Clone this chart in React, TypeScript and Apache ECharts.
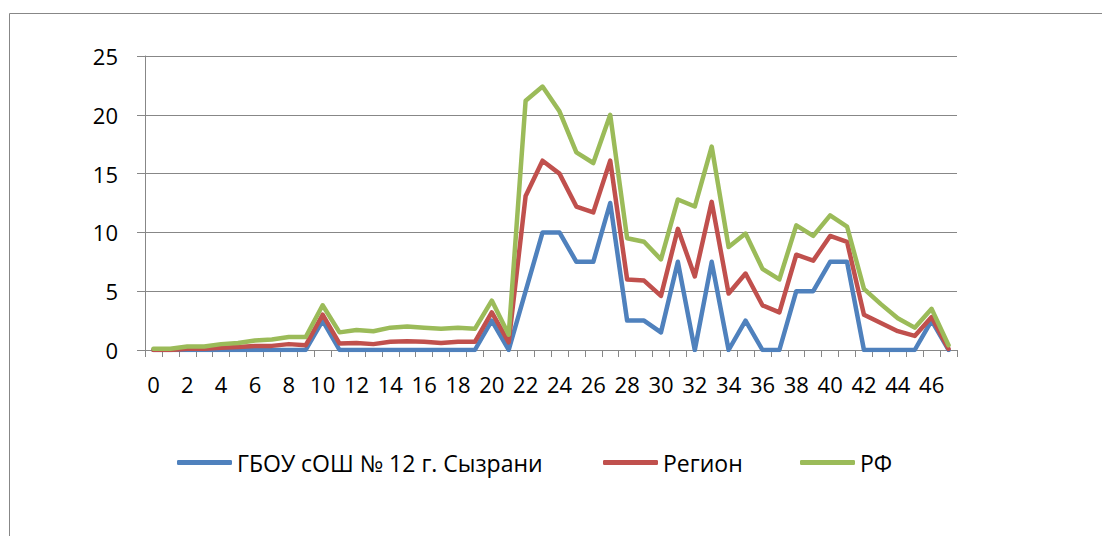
import React, { useEffect, useRef } from "react";
import * as echarts from "echarts";

const categories = [
  "0", "1", "2", "3", "4", "5", "6", "7", "8", "9",
  "10", "11", "12", "13", "14", "15", "16", "17", "18", "19",
  "20", "21", "22", "23", "24", "25", "26", "27", "28", "29",
  "30", "31", "32", "33", "34", "35", "36", "37", "38", "39",
  "40", "41", "42", "43", "44", "45", "46", "47",
];

const seriesNames = ["ГБОУ сОШ № 12 г. Сызрани", "Регион", "РФ"];

const schoolValues = [
  0, 0, 0, 0, 0, 0, 0, 0, 0, 0,
  2.5, 0, 0, 0, 0, 0, 0, 0, 0, 0,
  2.5, 0, 5, 10, 10, 7.5, 7.5, 12.5, 2.5, 2.5,
  1.5, 7.5, 0, 7.5, 0, 2.5, 0, 0, 5, 5,
  7.5, 7.5, 0, 0, 0, 0, 2.5, 0,
];

const regionValues = [
  0, 0, 0.1, 0.1, 0.2, 0.25, 0.35, 0.35, 0.5, 0.4,
  3.0, 0.55, 0.6, 0.5, 0.7, 0.75, 0.7, 0.6, 0.7, 0.7,
  3.2, 0.65, 13.1, 16.1, 15.0, 12.2, 11.7, 16.1, 6.0, 5.9,
  4.6, 10.3, 6.25, 12.6, 4.8, 6.5, 3.8, 3.2, 8.1, 7.6,
  9.7, 9.2, 3.0, 2.3, 1.6, 1.2, 2.8, 0.1,
];

const rfValues = [
  0.1, 0.1, 0.3, 0.3, 0.5, 0.6, 0.8, 0.9, 1.1, 1.1,
  3.8, 1.5, 1.7, 1.6, 1.9, 2.0, 1.9, 1.8, 1.9, 1.8,
  4.2, 1.3, 21.2, 22.4, 20.3, 16.8, 15.9, 20.0, 9.5, 9.2,
  7.7, 12.8, 12.2, 17.3, 8.75, 9.9, 6.9, 6.0, 10.6, 9.7,
  11.45, 10.5, 5.2, 3.9, 2.7, 1.9, 3.5, 0.4,
];

const colors = ["#4F81BD", "#C0504D", "#9BBB59"];
const FONT = "'Open Sans', 'Noto Sans', sans-serif";
const AXIS_GRAY = "#878787";

export default function App() {
  const ref = useRef<HTMLDivElement>(null);

  useEffect(() => {
    if (!ref.current) return;
    const chart = echarts.init(ref.current, null, { renderer: "svg" });
    const valueSets = [schoolValues, regionValues, rfValues];
    const legendLefts = [172, 598, 795];

    chart.setOption({
      animation: false,
      backgroundColor: "#ffffff",
      textStyle: { fontFamily: FONT },
      graphic: [
        {
          type: "rect",
          shape: { x: 9.5, y: 13.5, width: 1300, height: 700 },
          style: { fill: "none", stroke: AXIS_GRAY, lineWidth: 1 },
          silent: true,
          z: -10,
        },
      ],
      grid: { left: 145, top: 56, width: 812, height: 294, containLabel: false },
      legend: seriesNames.map((name, i) => ({
        data: [name],
        left: legendLefts[i],
        top: 446,
        itemWidth: 55,
        itemHeight: 5,
        icon: "roundRect",
        itemStyle: { color: colors[i] },
        textStyle: { color: "#000", fontSize: 23, fontFamily: FONT },
        selectedMode: false,
      })),
      xAxis: {
        type: "category",
        data: categories,
        boundaryGap: true,
        axisLine: { lineStyle: { color: AXIS_GRAY, width: 1 } },
        axisTick: {
          show: true,
          interval: 0,
          alignWithLabel: false,
          length: 7,
          lineStyle: { color: AXIS_GRAY },
        },
        axisLabel: {
          interval: 1,
          color: "#000",
          fontSize: 22,
          fontFamily: FONT,
          margin: 23,
        },
        splitLine: { show: false },
      },
      yAxis: {
        type: "value",
        min: 0,
        max: 25,
        interval: 5,
        axisLine: { show: true, lineStyle: { color: AXIS_GRAY, width: 1 } },
        axisTick: { show: true, length: 8, lineStyle: { color: AXIS_GRAY } },
        axisLabel: {
          color: "#000",
          fontSize: 22,
          fontFamily: FONT,
          margin: 27,
        },
        splitLine: { show: true, lineStyle: { color: AXIS_GRAY, width: 1 } },
      },
      series: seriesNames.map((name, i) => ({
        name,
        type: "line",
        data: valueSets[i],
        symbol: "none",
        color: colors[i],
        lineStyle: { color: colors[i], width: 4.5, join: "round", cap: "round" },
        z: 2 + i,
      })),
    });

    return () => chart.dispose();
  }, []);

  return (
    <div
      ref={ref}
      style={{ position: "fixed", left: 0, top: 0, width: 1102, height: 536 }}
    />
  );
}
